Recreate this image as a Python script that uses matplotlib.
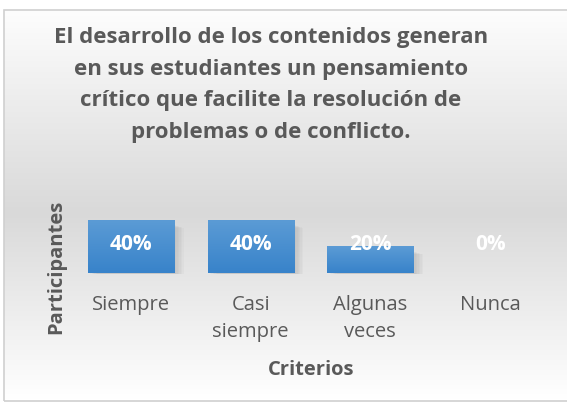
import numpy as np
import matplotlib
matplotlib.use("Agg")
import matplotlib.pyplot as plt
from matplotlib.colors import LinearSegmentedColormap
from matplotlib.patches import Rectangle
import matplotlib.transforms as mtransforms

# data
categorias = ["Siempre", "Casi\nsiempre", "Algunas\nveces", "Nunca"]
valores = [0.40, 0.40, 0.20, 0.0]
etiquetas = ["40%", "40%", "20%", "0%"]
titulo = ("El desarrollo de los contenidos generan\nen sus estudiantes un pensamiento\n"
          "crítico que facilite la resolución de\nproblemas o de conflicto.")

FONT = "Open Sans"
GRIS = "#595959"
W, H = 567, 409
fig = plt.figure(figsize=(W / 100, H / 100), dpi=100)
fig.patch.set_facecolor("white")

# background gradient (white -> grey -> white) inside the chart frame
bg = fig.add_axes([4 / W, (H - 400) / H, 1 - 4 / W, 390 / H], zorder=-10)
grad_cmap = LinearSegmentedColormap.from_list(
    "bg", [(0, "#fdfdfd"), (0.52, "#d9d9d9"), (1.0, "#ffffff")])
bg.imshow(np.linspace(0, 1, 256).reshape(-1, 1), aspect="auto", cmap=grad_cmap,
          extent=[0, 1, 0, 1], origin="upper")
bg.set_xlim(0, 1)
bg.set_ylim(0, 1)
bg.axis("off")
fig.patches.append(Rectangle((4 / W, (H - 401) / H), 1.2, 391 / H, transform=fig.transFigure,
                             fill=False, edgecolor="#d0d0d0", linewidth=1.2, zorder=-5))

# plot area: bottom = baseline, top = 40% bar top
ax = fig.add_axes([71 / W, (H - 273) / H, 479 / W, 53 / H])
ax.set_facecolor("none")
x = np.arange(len(categorias))
bars = ax.bar(x, valores, width=0.72, color="#4a8fd2", zorder=3)

bar_cmap = LinearSegmentedColormap.from_list("bar", ["#5b9bd5", "#3883ca"])
for b in bars:
    if b.get_height() <= 0:
        continue
    x0, w, h = b.get_x(), b.get_width(), b.get_height()
    b.set_alpha(0)
    # soft shadow
    for k in range(6):
        ax.add_patch(Rectangle((x0 + 0.02 + k * 0.012, -0.01), w, h - 0.03 - k * 0.004,
                               facecolor="#808080", alpha=0.05, edgecolor="none",
                               zorder=2, clip_on=False))
    ax.imshow(np.linspace(0, 1, 64).reshape(-1, 1), aspect="auto", cmap=bar_cmap,
              extent=[x0, x0 + w, 0, h], origin="upper", zorder=3)
ax.set_xlim(-0.5, 3.5)
ax.set_ylim(0, 0.4)

trans = mtransforms.blended_transform_factory(ax.transData, ax.transAxes)
for xi, lab in zip(x, etiquetas):
    ax.text(xi, 0.54, lab, transform=trans, ha="center", va="center", color="white",
            fontsize=15, fontweight="bold", family=FONT, zorder=5)

ax.set_xticks(x)
ax.set_xticklabels(categorias, fontsize=14.5, color=GRIS, family=FONT,
                   linespacing=1.45)
ax.tick_params(axis="x", length=0, pad=16)
ax.set_yticks([])
for s in ax.spines.values():
    s.set_visible(False)

fig.text(56 / W, 1 - 267 / H, "Participantes", rotation=90, ha="center", va="center",
         fontsize=14.5, fontweight="bold", color=GRIS, family=FONT)
fig.text(311 / W, 1 - 370 / H, "Criterios", ha="center", va="center",
         fontsize=14.5, fontweight="bold", color=GRIS, family=FONT)
fig.text(271 / W, 1 - 85 / H, titulo, ha="center", va="center", fontsize=16,
         fontweight="bold", color=GRIS, family=FONT, linespacing=1.68)

fig.savefig("out.png", dpi=100)
